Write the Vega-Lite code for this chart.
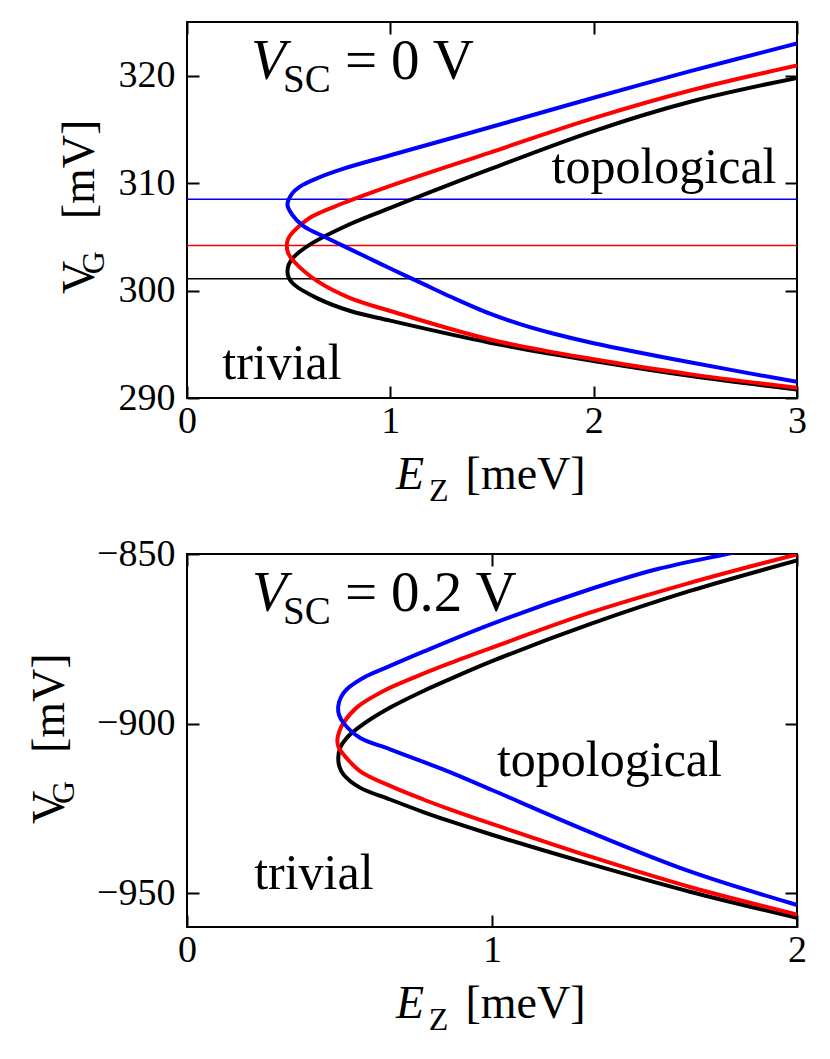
{
  "$schema": "https://vega.github.io/schema/vega-lite/v6.json",
  "background": "white",
  "padding": {"left": 26, "top": 20, "right": 5, "bottom": 5},
  "spacing": 156,
  "bounds": "flush",
  "config": {
    "view": {"stroke": "#000000", "strokeWidth": 2},
    "axis": {
      "grid": false, "domain": false, "ticks": true, "tickSize": -12, "tickWidth": 2,
      "tickColor": "#000000", "labelFont": "Liberation Serif", "labelFontSize": 38,
      "labelColor": "#000000", "labelFlush": false, "labelOverlap": false, "format": "d"
    },
    "axisX": {"labelPadding": 16},
    "axisY": {"labelPadding": 24},
    "text": {"font": "Liberation Serif", "color": "#000000", "align": "left", "baseline": "alphabetic"}
  },
  "datasets": {
    "hlines": [
      {"c": "black", "y": 301.1},
      {"c": "red", "y": 304.2},
      {"c": "blue", "y": 308.5}
    ],
    "topcurves": [
      {"c": "black", "x": 3.0, "y": 290.8}, {"c": "black", "x": 2.48, "y": 292.05}, {"c": "black", "x": 2.0, "y": 293.45},
      {"c": "black", "x": 1.49, "y": 295.15}, {"c": "black", "x": 1.0, "y": 297.2}, {"c": "black", "x": 0.803, "y": 298.1},
      {"c": "black", "x": 0.639, "y": 299.3}, {"c": "black", "x": 0.524, "y": 300.6}, {"c": "black", "x": 0.5, "y": 301.2},
      {"c": "black", "x": 0.494, "y": 301.8}, {"c": "black", "x": 0.5, "y": 302.4}, {"c": "black", "x": 0.524, "y": 303.1},
      {"c": "black", "x": 0.606, "y": 304.3}, {"c": "black", "x": 0.803, "y": 306.2}, {"c": "black", "x": 1.0, "y": 307.7},
      {"c": "black", "x": 1.49, "y": 311.3}, {"c": "black", "x": 2.0, "y": 314.85}, {"c": "black", "x": 2.48, "y": 317.6},
      {"c": "black", "x": 3.0, "y": 319.8},
      {"c": "red", "x": 3.0, "y": 290.95}, {"c": "red", "x": 2.48, "y": 292.2}, {"c": "red", "x": 2.0, "y": 293.6},
      {"c": "red", "x": 1.49, "y": 295.45}, {"c": "red", "x": 1.0, "y": 298.1}, {"c": "red", "x": 0.803, "y": 299.3},
      {"c": "red", "x": 0.639, "y": 300.9}, {"c": "red", "x": 0.524, "y": 302.75}, {"c": "red", "x": 0.497, "y": 303.5},
      {"c": "red", "x": 0.491, "y": 304.15}, {"c": "red", "x": 0.497, "y": 304.8}, {"c": "red", "x": 0.524, "y": 305.5},
      {"c": "red", "x": 0.606, "y": 306.8}, {"c": "red", "x": 0.77, "y": 308.15}, {"c": "red", "x": 1.0, "y": 309.75},
      {"c": "red", "x": 1.49, "y": 312.85}, {"c": "red", "x": 2.0, "y": 316.05}, {"c": "red", "x": 2.48, "y": 318.65},
      {"c": "red", "x": 3.0, "y": 320.95},
      {"c": "blue", "x": 3.0, "y": 291.5}, {"c": "blue", "x": 2.48, "y": 293.3}, {"c": "blue", "x": 2.0, "y": 295.1},
      {"c": "blue", "x": 1.8, "y": 296.0}, {"c": "blue", "x": 1.65, "y": 296.8}, {"c": "blue", "x": 1.49, "y": 297.85},
      {"c": "blue", "x": 1.3, "y": 299.4}, {"c": "blue", "x": 1.164, "y": 300.6}, {"c": "blue", "x": 1.0, "y": 302.05},
      {"c": "blue", "x": 0.885, "y": 303.1}, {"c": "blue", "x": 0.688, "y": 304.9}, {"c": "blue", "x": 0.573, "y": 306.0},
      {"c": "blue", "x": 0.516, "y": 307.1}, {"c": "blue", "x": 0.494, "y": 308.0}, {"c": "blue", "x": 0.516, "y": 309.0},
      {"c": "blue", "x": 0.557, "y": 309.7}, {"c": "blue", "x": 0.639, "y": 310.45}, {"c": "blue", "x": 0.77, "y": 311.35},
      {"c": "blue", "x": 1.0, "y": 312.6}, {"c": "blue", "x": 1.49, "y": 315.2}, {"c": "blue", "x": 2.0, "y": 317.95},
      {"c": "blue", "x": 2.48, "y": 320.45}, {"c": "blue", "x": 3.0, "y": 323.0}
    ],
    "bottomcurves": [
      {"c": "black", "x": 2.0, "y": -957.3}, {"c": "black", "x": 1.649, "y": -949.6}, {"c": "black", "x": 1.321, "y": -941.4},
      {"c": "black", "x": 1.0, "y": -932.8}, {"c": "black", "x": 0.862, "y": -928.8}, {"c": "black", "x": 0.775, "y": -926.1},
      {"c": "black", "x": 0.666, "y": -922.4}, {"c": "black", "x": 0.567, "y": -918.9}, {"c": "black", "x": 0.513, "y": -915.0},
      {"c": "black", "x": 0.5, "y": -912.8}, {"c": "black", "x": 0.496, "y": -910.1}, {"c": "black", "x": 0.503, "y": -907.0},
      {"c": "black", "x": 0.524, "y": -904.2}, {"c": "black", "x": 0.578, "y": -900.2}, {"c": "black", "x": 0.666, "y": -895.3},
      {"c": "black", "x": 0.775, "y": -890.4}, {"c": "black", "x": 0.862, "y": -886.9}, {"c": "black", "x": 1.0, "y": -881.6},
      {"c": "black", "x": 1.321, "y": -870.7}, {"c": "black", "x": 1.649, "y": -860.9}, {"c": "black", "x": 2.0, "y": -851.9},
      {"c": "red", "x": 2.0, "y": -956.3}, {"c": "red", "x": 1.649, "y": -948.2}, {"c": "red", "x": 1.321, "y": -939.2},
      {"c": "red", "x": 1.0, "y": -929.6}, {"c": "red", "x": 0.862, "y": -925.3}, {"c": "red", "x": 0.775, "y": -922.4},
      {"c": "red", "x": 0.666, "y": -918.4}, {"c": "red", "x": 0.567, "y": -914.0}, {"c": "red", "x": 0.513, "y": -909.1},
      {"c": "red", "x": 0.497, "y": -907.0}, {"c": "red", "x": 0.493, "y": -904.7}, {"c": "red", "x": 0.5, "y": -902.2},
      {"c": "red", "x": 0.513, "y": -899.8}, {"c": "red", "x": 0.556, "y": -895.3}, {"c": "red", "x": 0.644, "y": -890.4},
      {"c": "red", "x": 0.753, "y": -886.1}, {"c": "red", "x": 0.862, "y": -882.2}, {"c": "red", "x": 1.0, "y": -877.6},
      {"c": "red", "x": 1.321, "y": -867.3}, {"c": "red", "x": 1.649, "y": -858.5}, {"c": "red", "x": 2.0, "y": -850.1},
      {"c": "blue", "x": 2.0, "y": -953.5}, {"c": "blue", "x": 1.649, "y": -943.6}, {"c": "blue", "x": 1.321, "y": -932.0},
      {"c": "blue", "x": 1.0, "y": -919.6}, {"c": "blue", "x": 0.862, "y": -914.3}, {"c": "blue", "x": 0.775, "y": -911.3},
      {"c": "blue", "x": 0.666, "y": -907.6}, {"c": "blue", "x": 0.567, "y": -904.2}, {"c": "blue", "x": 0.513, "y": -899.8},
      {"c": "blue", "x": 0.498, "y": -897.3}, {"c": "blue", "x": 0.496, "y": -894.8}, {"c": "blue", "x": 0.505, "y": -892.2},
      {"c": "blue", "x": 0.524, "y": -889.9}, {"c": "blue", "x": 0.589, "y": -886.0}, {"c": "blue", "x": 0.666, "y": -883.0},
      {"c": "blue", "x": 0.775, "y": -878.8}, {"c": "blue", "x": 1.0, "y": -870.6}, {"c": "blue", "x": 1.321, "y": -860.4},
      {"c": "blue", "x": 1.54, "y": -854.5}, {"c": "blue", "x": 1.77, "y": -850.0}, {"c": "blue", "x": 1.9, "y": -847.5}
    ],
    "labels": [
      {"panel": "top", "kind": "ann-it", "x": 0.315, "y": 319.73, "text": "V"},
      {"panel": "top", "kind": "ann-sub", "x": 0.472, "y": 318.46, "text": "SC"},
      {"panel": "top", "kind": "ann", "x": 0.777, "y": 319.73, "text": "="},
      {"panel": "top", "kind": "ann", "x": 1.003, "y": 319.73, "text": "0 V"},
      {"panel": "top", "kind": "region", "x": 2.346, "y": 310.0, "text": "topological"},
      {"panel": "top", "kind": "region", "x": 0.467, "y": 291.8, "text": "trivial"},
      {"panel": "top", "kind": "xt-it", "x": 1.028, "y": 281.5, "text": "E"},
      {"panel": "top", "kind": "xt-sub", "x": 1.19, "y": 280.4, "text": "Z"},
      {"panel": "top", "kind": "xt", "x": 1.37, "y": 281.5, "text": "[meV]"},
      {"panel": "top", "kind": "yt", "x": -0.457, "y": 299.68, "text": "V"},
      {"panel": "top", "kind": "yt-sub", "x": -0.408, "y": 301.52, "text": "G"},
      {"panel": "top", "kind": "yt", "x": -0.457, "y": 306.64, "text": "[mV]"},
      {"panel": "bottom", "kind": "ann-it", "x": 0.213, "y": -866.7, "text": "V"},
      {"panel": "bottom", "kind": "ann-sub", "x": 0.315, "y": -870.7, "text": "SC"},
      {"panel": "bottom", "kind": "ann", "x": 0.518, "y": -866.7, "text": "="},
      {"panel": "bottom", "kind": "ann", "x": 0.669, "y": -866.7, "text": "0.2 V"},
      {"panel": "bottom", "kind": "region", "x": 1.385, "y": -915.5, "text": "topological"},
      {"panel": "bottom", "kind": "region", "x": 0.416, "y": -948.9, "text": "trivial"},
      {"panel": "bottom", "kind": "xt-it", "x": 0.685, "y": -986.9, "text": "E"},
      {"panel": "bottom", "kind": "xt-sub", "x": 0.793, "y": -990.4, "text": "Z"},
      {"panel": "bottom", "kind": "xt", "x": 0.913, "y": -986.9, "text": "[meV]"},
      {"panel": "bottom", "kind": "yt", "x": -0.403, "y": -929.6, "text": "V"},
      {"panel": "bottom", "kind": "yt-sub", "x": -0.37, "y": -923.7, "text": "G"},
      {"panel": "bottom", "kind": "yt", "x": -0.403, "y": -908.7, "text": "[mV]"}
    ]
  },
  "vconcat": [
    {
      "width": 610,
      "height": 376,
      "resolve": {"axis": {"x": "independent", "y": "independent"}},
      "layer": [
        {
          "data": {"name": "hlines"},
          "mark": {"type": "rule", "strokeWidth": 1.5},
          "encoding": {
            "y": {"field": "y", "type": "quantitative", "scale": {"domain": [290, 325], "nice": false, "zero": false}, "axis": null},
            "color": {"field": "c", "type": "nominal", "scale": {"domain": ["black", "red", "blue"], "range": ["#000000", "#ff0000", "#0000ff"]}, "legend": null}
          }
        },
        {
          "data": {"name": "topcurves"},
          "mark": {"type": "line", "strokeWidth": 4, "strokeJoin": "round", "interpolate": "catmull-rom", "clip": true},
          "encoding": {
            "x": {"field": "x", "type": "quantitative", "scale": {"domain": [0, 3], "nice": false, "zero": false}, "axis": {"orient": "bottom", "values": [0, 1, 2, 3], "title": null}},
            "y": {"field": "y", "type": "quantitative", "scale": {"domain": [290, 325], "nice": false, "zero": false}, "axis": {"orient": "left", "values": [290, 300, 310, 320], "title": null}},
            "color": {"field": "c", "type": "nominal", "scale": {"domain": ["black", "red", "blue"], "range": ["#000000", "#ff0000", "#0000ff"]}, "legend": null},
            "order": {"value": null}
          }
        },
        {
          "data": {"name": "labels"},
          "transform": [{"filter": "datum.panel == 'top' && datum.kind == 'region'"}],
          "mark": {"type": "text", "fontSize": 50, "align": "center"},
          "encoding": {
            "x": {"field": "x", "type": "quantitative", "scale": {"domain": [0, 3], "nice": false, "zero": false}, "axis": {"orient": "top", "values": [0, 1, 2, 3], "labels": false, "title": null}},
            "y": {"field": "y", "type": "quantitative", "scale": {"domain": [290, 325], "nice": false, "zero": false}, "axis": {"orient": "right", "values": [290, 300, 310, 320], "labels": false, "title": null}},
            "text": {"field": "text"}
          }
        },
        {
          "data": {"name": "labels"},
          "transform": [{"filter": "datum.panel == 'top' && datum.kind == 'ann'"}],
          "mark": {"type": "text", "fontSize": 57},
          "encoding": {
            "x": {"field": "x", "type": "quantitative", "scale": {"domain": [0, 3], "nice": false, "zero": false}, "axis": null},
            "y": {"field": "y", "type": "quantitative", "scale": {"domain": [290, 325], "nice": false, "zero": false}, "axis": null},
            "text": {"field": "text"}
          }
        },
        {
          "data": {"name": "labels"},
          "transform": [{"filter": "datum.panel == 'top' && datum.kind == 'ann-it'"}],
          "mark": {"type": "text", "fontSize": 57, "fontStyle": "italic"},
          "encoding": {
            "x": {"field": "x", "type": "quantitative", "scale": {"domain": [0, 3], "nice": false, "zero": false}, "axis": null},
            "y": {"field": "y", "type": "quantitative", "scale": {"domain": [290, 325], "nice": false, "zero": false}, "axis": null},
            "text": {"field": "text"}
          }
        },
        {
          "data": {"name": "labels"},
          "transform": [{"filter": "datum.panel == 'top' && datum.kind == 'ann-sub'"}],
          "mark": {"type": "text", "fontSize": 39},
          "encoding": {
            "x": {"field": "x", "type": "quantitative", "scale": {"domain": [0, 3], "nice": false, "zero": false}, "axis": null},
            "y": {"field": "y", "type": "quantitative", "scale": {"domain": [290, 325], "nice": false, "zero": false}, "axis": null},
            "text": {"field": "text"}
          }
        },
        {
          "data": {"name": "labels"},
          "transform": [{"filter": "datum.panel == 'top' && datum.kind == 'xt'"}],
          "mark": {"type": "text", "fontSize": 46},
          "encoding": {
            "x": {"field": "x", "type": "quantitative", "scale": {"domain": [0, 3], "nice": false, "zero": false}, "axis": null},
            "y": {"field": "y", "type": "quantitative", "scale": {"domain": [290, 325], "nice": false, "zero": false}, "axis": null},
            "text": {"field": "text"}
          }
        },
        {
          "data": {"name": "labels"},
          "transform": [{"filter": "datum.panel == 'top' && datum.kind == 'xt-it'"}],
          "mark": {"type": "text", "fontSize": 46, "fontStyle": "italic"},
          "encoding": {
            "x": {"field": "x", "type": "quantitative", "scale": {"domain": [0, 3], "nice": false, "zero": false}, "axis": null},
            "y": {"field": "y", "type": "quantitative", "scale": {"domain": [290, 325], "nice": false, "zero": false}, "axis": null},
            "text": {"field": "text"}
          }
        },
        {
          "data": {"name": "labels"},
          "transform": [{"filter": "datum.panel == 'top' && datum.kind == 'xt-sub'"}],
          "mark": {"type": "text", "fontSize": 32},
          "encoding": {
            "x": {"field": "x", "type": "quantitative", "scale": {"domain": [0, 3], "nice": false, "zero": false}, "axis": null},
            "y": {"field": "y", "type": "quantitative", "scale": {"domain": [290, 325], "nice": false, "zero": false}, "axis": null},
            "text": {"field": "text"}
          }
        },
        {
          "data": {"name": "labels"},
          "transform": [{"filter": "datum.panel == 'top' && datum.kind == 'yt'"}],
          "mark": {"type": "text", "fontSize": 46, "angle": 270},
          "encoding": {
            "x": {"field": "x", "type": "quantitative", "scale": {"domain": [0, 3], "nice": false, "zero": false}, "axis": null},
            "y": {"field": "y", "type": "quantitative", "scale": {"domain": [290, 325], "nice": false, "zero": false}, "axis": null},
            "text": {"field": "text"}
          }
        },
        {
          "data": {"name": "labels"},
          "transform": [{"filter": "datum.panel == 'top' && datum.kind == 'yt-sub'"}],
          "mark": {"type": "text", "fontSize": 32, "angle": 270},
          "encoding": {
            "x": {"field": "x", "type": "quantitative", "scale": {"domain": [0, 3], "nice": false, "zero": false}, "axis": null},
            "y": {"field": "y", "type": "quantitative", "scale": {"domain": [290, 325], "nice": false, "zero": false}, "axis": null},
            "text": {"field": "text"}
          }
        }
      ]
    },
    {
      "width": 610,
      "height": 373,
      "resolve": {"axis": {"x": "independent", "y": "independent"}},
      "layer": [
        {
          "data": {"name": "bottomcurves"},
          "mark": {"type": "line", "strokeWidth": 4, "strokeJoin": "round", "interpolate": "catmull-rom", "clip": true},
          "encoding": {
            "x": {"field": "x", "type": "quantitative", "scale": {"domain": [0, 2], "nice": false, "zero": false}, "axis": {"orient": "bottom", "values": [0, 1, 2], "title": null}},
            "y": {"field": "y", "type": "quantitative", "scale": {"domain": [-960, -850], "nice": false, "zero": false}, "axis": {"orient": "left", "values": [-950, -900, -850], "title": null}},
            "color": {"field": "c", "type": "nominal", "scale": {"domain": ["black", "red", "blue"], "range": ["#000000", "#ff0000", "#0000ff"]}, "legend": null},
            "order": {"value": null}
          }
        },
        {
          "data": {"name": "labels"},
          "transform": [{"filter": "datum.panel == 'bottom' && datum.kind == 'region'"}],
          "mark": {"type": "text", "fontSize": 50, "align": "center"},
          "encoding": {
            "x": {"field": "x", "type": "quantitative", "scale": {"domain": [0, 2], "nice": false, "zero": false}, "axis": {"orient": "top", "values": [0, 1, 2], "labels": false, "title": null}},
            "y": {"field": "y", "type": "quantitative", "scale": {"domain": [-960, -850], "nice": false, "zero": false}, "axis": {"orient": "right", "values": [-950, -900, -850], "labels": false, "title": null}},
            "text": {"field": "text"}
          }
        },
        {
          "data": {"name": "labels"},
          "transform": [{"filter": "datum.panel == 'bottom' && datum.kind == 'ann'"}],
          "mark": {"type": "text", "fontSize": 57},
          "encoding": {
            "x": {"field": "x", "type": "quantitative", "scale": {"domain": [0, 2], "nice": false, "zero": false}, "axis": null},
            "y": {"field": "y", "type": "quantitative", "scale": {"domain": [-960, -850], "nice": false, "zero": false}, "axis": null},
            "text": {"field": "text"}
          }
        },
        {
          "data": {"name": "labels"},
          "transform": [{"filter": "datum.panel == 'bottom' && datum.kind == 'ann-it'"}],
          "mark": {"type": "text", "fontSize": 57, "fontStyle": "italic"},
          "encoding": {
            "x": {"field": "x", "type": "quantitative", "scale": {"domain": [0, 2], "nice": false, "zero": false}, "axis": null},
            "y": {"field": "y", "type": "quantitative", "scale": {"domain": [-960, -850], "nice": false, "zero": false}, "axis": null},
            "text": {"field": "text"}
          }
        },
        {
          "data": {"name": "labels"},
          "transform": [{"filter": "datum.panel == 'bottom' && datum.kind == 'ann-sub'"}],
          "mark": {"type": "text", "fontSize": 39},
          "encoding": {
            "x": {"field": "x", "type": "quantitative", "scale": {"domain": [0, 2], "nice": false, "zero": false}, "axis": null},
            "y": {"field": "y", "type": "quantitative", "scale": {"domain": [-960, -850], "nice": false, "zero": false}, "axis": null},
            "text": {"field": "text"}
          }
        },
        {
          "data": {"name": "labels"},
          "transform": [{"filter": "datum.panel == 'bottom' && datum.kind == 'xt'"}],
          "mark": {"type": "text", "fontSize": 46},
          "encoding": {
            "x": {"field": "x", "type": "quantitative", "scale": {"domain": [0, 2], "nice": false, "zero": false}, "axis": null},
            "y": {"field": "y", "type": "quantitative", "scale": {"domain": [-960, -850], "nice": false, "zero": false}, "axis": null},
            "text": {"field": "text"}
          }
        },
        {
          "data": {"name": "labels"},
          "transform": [{"filter": "datum.panel == 'bottom' && datum.kind == 'xt-it'"}],
          "mark": {"type": "text", "fontSize": 46, "fontStyle": "italic"},
          "encoding": {
            "x": {"field": "x", "type": "quantitative", "scale": {"domain": [0, 2], "nice": false, "zero": false}, "axis": null},
            "y": {"field": "y", "type": "quantitative", "scale": {"domain": [-960, -850], "nice": false, "zero": false}, "axis": null},
            "text": {"field": "text"}
          }
        },
        {
          "data": {"name": "labels"},
          "transform": [{"filter": "datum.panel == 'bottom' && datum.kind == 'xt-sub'"}],
          "mark": {"type": "text", "fontSize": 32},
          "encoding": {
            "x": {"field": "x", "type": "quantitative", "scale": {"domain": [0, 2], "nice": false, "zero": false}, "axis": null},
            "y": {"field": "y", "type": "quantitative", "scale": {"domain": [-960, -850], "nice": false, "zero": false}, "axis": null},
            "text": {"field": "text"}
          }
        },
        {
          "data": {"name": "labels"},
          "transform": [{"filter": "datum.panel == 'bottom' && datum.kind == 'yt'"}],
          "mark": {"type": "text", "fontSize": 46, "angle": 270},
          "encoding": {
            "x": {"field": "x", "type": "quantitative", "scale": {"domain": [0, 2], "nice": false, "zero": false}, "axis": null},
            "y": {"field": "y", "type": "quantitative", "scale": {"domain": [-960, -850], "nice": false, "zero": false}, "axis": null},
            "text": {"field": "text"}
          }
        },
        {
          "data": {"name": "labels"},
          "transform": [{"filter": "datum.panel == 'bottom' && datum.kind == 'yt-sub'"}],
          "mark": {"type": "text", "fontSize": 32, "angle": 270},
          "encoding": {
            "x": {"field": "x", "type": "quantitative", "scale": {"domain": [0, 2], "nice": false, "zero": false}, "axis": null},
            "y": {"field": "y", "type": "quantitative", "scale": {"domain": [-960, -850], "nice": false, "zero": false}, "axis": null},
            "text": {"field": "text"}
          }
        }
      ]
    }
  ]
}
